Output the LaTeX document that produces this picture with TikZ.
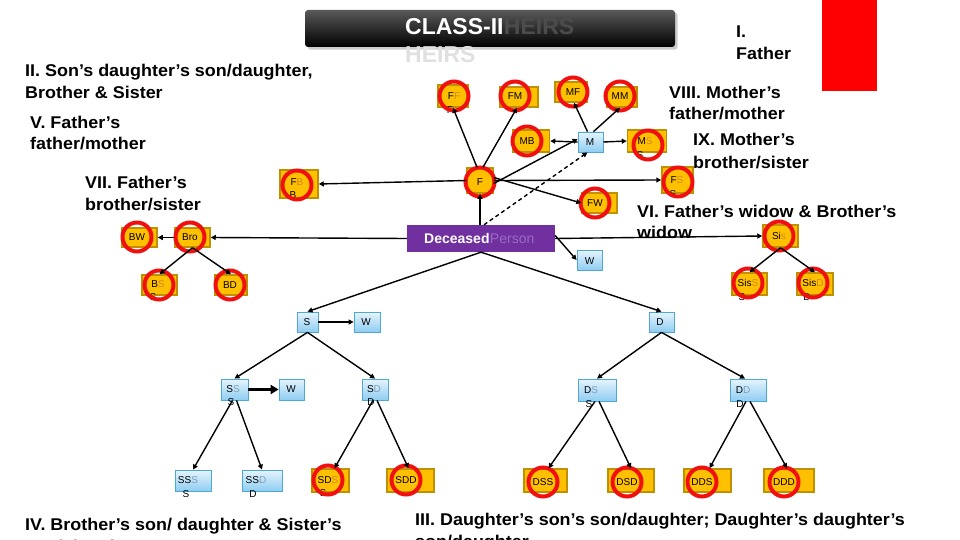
\documentclass[tikz,border=0pt]{standalone}
\usepackage{fontspec}
\setmainfont{Liberation Sans}
\newfontfamily\lblfont[FakeStretch=1.055]{Liberation Sans}
\usetikzlibrary{arrows.meta,shadows}
\definecolor{gold}{HTML}{FFC000}
\definecolor{goldb}{HTML}{BF9000}
\definecolor{ghostO}{HTML}{D08A20}
\definecolor{ghostB}{HTML}{7F9DB9}
\definecolor{ringred}{HTML}{F01010}
\definecolor{bluetop}{HTML}{E6F4FC}
\definecolor{bluebot}{HTML}{8FCDF2}
\definecolor{blueb}{HTML}{4FA8D2}
\definecolor{purp}{HTML}{7030A0}
\definecolor{ghostP}{HTML}{9B6BC4}
\newcommand\gO[1]{\textcolor{ghostO}{#1}}
\newcommand\gB[1]{\textcolor{ghostB}{#1}}
\tikzset{
 obox/.style={draw=goldb, fill=gold, line width=1.5pt, inner sep=0pt},
 ring/.style={circle, draw=ringred, line width=4pt, minimum size=29pt, inner sep=0pt, font=\fontsize{10}{12}\selectfont},
 bbox/.style={draw=blueb, line width=0.8pt, top color=bluetop, bottom color=bluebot, inner sep=0pt},
 btxt/.style={inner sep=0pt, font=\fontsize{10}{12}\selectfont},
 subl/.style={inner sep=0pt, font=\fontsize{10}{12}\selectfont},
 lbl/.style={anchor=base west, inner sep=0pt, font=\lblfont\fontsize{17}{22}\bfseries\selectfont},
 arr/.style={-{Triangle[length=5pt,width=5pt]}, line width=1.4pt},
}
\begin{document}
\begin{tikzpicture}[x=1pt,y=-1pt]
\useasboundingbox (0,0) rectangle (960,540);
\clip (0,0) rectangle (960,540);
% title
\node[rounded corners=3pt, top color=black!65, bottom color=black, minimum width=370, minimum height=37, inner sep=0, drop shadow={opacity=0.4}] (title) at (490,28.5) {};
\node[anchor=base west, inner sep=0, text=white, font=\fontsize{23}{23}\bfseries\selectfont] (t1) at (405,35) {CLASS-II};
\node[anchor=base west, inner sep=0, text=black!70, font=\fontsize{23}{23}\bfseries\selectfont] (t2) at (t1.base east) {HEIRS};
\node[anchor=base west, inner sep=0, text=black!12, font=\fontsize{23}{23}\bfseries\selectfont] (t3) at (405,63) {HEIRS};
\fill[red] (822,0) rectangle (877,91);
% labels
\node[lbl] (lI1) at (736,38) {I.};
\node[lbl] (lI2) at (736,60) {Father};
\node[lbl] (lII1) at (25,77) {II. Son’s daughter’s son/daughter,};
\node[lbl] (lII2) at (25,99) {Brother \& Sister};
\node[lbl] (lV1) at (30,129) {V. Father’s};
\node[lbl] (lV2) at (30,150) {father/mother};
\node[lbl] (lVII1) at (85,188) {VII. Father’s};
\node[lbl] (lVII2) at (85,210) {brother/sister};
\node[lbl] (lVIII1) at (669,99) {VIII. Mother’s};
\node[lbl] (lVIII2) at (669,120) {father/mother};
\node[lbl] (lIX1) at (693,146) {IX. Mother’s};
\node[lbl] (lIX2) at (693,168) {brother/sister};
\node[lbl] (lVI1) at (637,217) {VI. Father’s widow \& Brother’s};
\node[lbl] (lVI2) at (637,238) {widow};
\node[lbl] (lIV1) at (25,530) {IV. Brother’s son/ daughter \& Sister’s};
\node[lbl] (lIV2) at (25,552) {son/ daughter};
\node[lbl] (lIII1) at (415,525) {III. Daughter’s son’s son/daughter; Daughter’s daughter’s};
\node[lbl] (lIII2) at (415,547) {son/daughter};
% orange boxes
\node[obox, minimum width=30, minimum height=22] (FF) at (453,96) {};
\node[obox, minimum width=38, minimum height=20] (FM) at (519,97) {};
\node[obox, minimum width=32, minimum height=20] (MF) at (571,92) {};
\node[obox, minimum width=30, minimum height=20] (MM) at (622,97) {};
\node[obox, minimum width=37, minimum height=22] (MB) at (531,141) {};
\node[obox, minimum width=39, minimum height=22] (MS) at (647,141) {};
\node[obox, minimum width=38, minimum height=28] (FB) at (299,184) {};
\node[obox, minimum width=26, minimum height=25] (F) at (480,180.5) {};
\node[obox, minimum width=31, minimum height=26] (FS) at (677.5,180) {};
\node[obox, minimum width=35, minimum height=20] (FW) at (599.5,203) {};
\node[obox, minimum width=35, minimum height=19] (BW) at (139.5,237.5) {};
\node[obox, minimum width=35, minimum height=19] (Bro) at (192.5,237.5) {};
\node[obox, minimum width=35, minimum height=22] (Sis) at (780.5,236) {};
\node[obox, minimum width=35, minimum height=20] (BS) at (159.5,285) {};
\node[obox, minimum width=32, minimum height=20] (BD) at (231,285) {};
\node[obox, minimum width=35, minimum height=22] (SisS) at (749.5,284) {};
\node[obox, minimum width=36, minimum height=22] (SisD) at (815,284) {};
\node[obox, minimum width=37, minimum height=23] (SDS) at (330.5,480.5) {};
\node[obox, minimum width=47, minimum height=23] (SDD) at (410.5,480.5) {};
\node[obox, minimum width=43, minimum height=23] (DSS) at (545.5,480.5) {};
\node[obox, minimum width=46, minimum height=23] (DSD) at (631,480.5) {};
\node[obox, minimum width=47, minimum height=23] (DDS) at (707.5,480.5) {};
\node[obox, minimum width=50, minimum height=23] (DDD) at (789,480.5) {};
% letters wrapped below boxes
\node[subl] (FFs) at (450,110) {F};
\node[subl] (MSs) at (640,155) {S};
\node[subl] (FBs) at (293,195) {B};
\node[subl] (FSs) at (673,194) {S};
\node[subl] (BSs) at (153,297) {S};
\node[subl] (SisSs) at (742,297) {S};
\node[subl] (SisDs) at (807,297) {D};
\node[subl] (SDSs) at (323,493) {S};
% rings with texts
\node[ring] (FFr) at (454,96) {F\gO{F}};
\node[ring] (FMr) at (515,96) {FM};
\node[ring] (MFr) at (573,92) {MF};
\node[ring] (MMr) at (620,96) {MM};
\node[ring] (MBr) at (527,141) {MB};
\node[ring] (MSr) at (648,145) {};
\node[btxt] (MSt) at (645,141) {M\gO{S}};
\node[ring] (FBr) at (297,185) {};
\node[btxt] (FBt) at (297,182) {F\gO{B}};
\node[ring] (Fr) at (480,182) {F};
\node[ring] (FSr) at (678,182) {};
\node[btxt] (FSt) at (677,180) {F\gO{S}};
\node[ring] (FWr) at (595,203) {FW};
\node[ring] (BWr) at (137,237) {BW};
\node[ring] (Bror) at (190,237) {Bro};
\node[ring] (Sisr) at (779,236) {Si\gO{s}};
\node[ring] (BSr) at (159,285) {};
\node[btxt] (BSt) at (158,284) {B\gO{S}};
\node[ring] (BDr) at (230,285) {BD};
\node[ring] (SisSr) at (748,283) {Sis\gO{S}};
\node[ring] (SisDr) at (813,283) {Sis\gO{D}};
\node[ring] (SDSr) at (328,480) {SD\gO{S}};
\node[ring] (SDDr) at (406,480) {SDD};
\node[ring] (DSSr) at (543,482) {DSS};
\node[ring] (DSDr) at (627,482) {DSD};
\node[ring] (DDSr) at (702,482) {DDS};
\node[ring] (DDDr) at (784,482) {DDD};
% blue boxes
\node[bbox, minimum width=25, minimum height=20] (M) at (590.5,142) {};
\node[btxt] (Mt) at (590,142) {M};
\node[bbox, minimum width=25, minimum height=20] (Wd) at (589.5,260) {};
\node[btxt] (Wdt) at (589.5,261) {W};
\node[bbox, minimum width=21, minimum height=20] (S) at (307.5,322) {};
\node[btxt] (St) at (307,322) {S};
\node[bbox, minimum width=26, minimum height=20] (W1) at (367,322) {};
\node[btxt] (W1t) at (366,322) {W};
\node[bbox, minimum width=25, minimum height=20] (D) at (661.5,322) {};
\node[btxt] (Dt) at (660,322) {D};
\node[bbox, minimum width=27, minimum height=21] (SS) at (234.5,389.5) {};
\node[btxt] (SSt) at (233,389) {S\gB{S}};
\node[subl] (SSs) at (231,402) {S};
\node[bbox, minimum width=25, minimum height=21] (W2) at (291.5,389.5) {};
\node[btxt] (W2t) at (291,389) {W};
\node[bbox, minimum width=26, minimum height=21] (SD) at (375,389.5) {};
\node[btxt] (SDt) at (374,389) {S\gB{D}};
\node[subl] (SDs) at (371,402) {D};
\node[bbox, minimum width=38, minimum height=22] (DS) at (597,390) {};
\node[btxt] (DSt) at (591,390) {D\gB{S}};
\node[subl] (DSs) at (589,404) {S};
\node[bbox, minimum width=36, minimum height=22] (DD) at (748,390) {};
\node[btxt] (DDt) at (743,390) {D\gB{D}};
\node[subl] (DDs) at (740,404) {D};
\node[bbox, minimum width=36, minimum height=21] (SSS) at (193,480.5) {};
\node[btxt] (SSSt) at (188,480) {SS\gB{S}};
\node[subl] (SSSs) at (186,494) {S};
\node[bbox, minimum width=40, minimum height=21] (SSD) at (262,480.5) {};
\node[btxt] (SSDt) at (256,480) {SS\gB{D}};
\node[subl] (SSDs) at (253,494) {D};
% deceased
\node[fill=purp, minimum width=148, minimum height=27, inner sep=0] (Dec) at (481,238.5) {};
\node[anchor=base west, inner sep=0, text=white, font=\fontsize{14}{14}\bfseries\selectfont] (Dect) at (424,243) {Deceased};
\node[anchor=base west, inner sep=0, text=ghostP, font=\fontsize{14}{14}\selectfont] (Decg) at (Dect.base east) {Person};
% edges
\draw[arr] ([xshift=-3]F.north) -- (FF.south);
\draw[arr] ([xshift=3]F.north) -- ([xshift=-2]FM.south);
\draw[arr] ([xshift=-3]M.north) -- ([xshift=3]MF.south);
\draw[arr] ([xshift=3]M.north) -- ([xshift=-2]MM.south);
\draw[arr] (M.west) -- (MB.east);
\draw[arr] (M.east) -- (MS.west);
\draw[arr] ([yshift=-3]F.east) -- ([yshift=3]M.west);
\draw[arr] (F.east) -- (FS.west);
\draw[arr] ([yshift=3]F.east) -- (FW.west);
\draw[arr] (F.west) -- (FB.east);
\draw[arr] (Dec.north -| F) -- (F.south);
\draw[arr, dashed, dash pattern=on 4pt off 3pt] ([xshift=3]Dec.north) -- ([xshift=-3]M.south);
\draw[arr] (Dec.west) -- (Bro.east);
\draw[arr] (Dec.east) -- (Sis.west);
\draw[arr] ([yshift=3]Dec.east) -- (Wd.west);
\draw[arr] (Dec.south) -- (S.north);
\draw[arr] (Dec.south) -- (D.north);
\draw[arr] (Bro.west) -- (BW.east);
\draw[arr] (Bro.south) -- (BS.north);
\draw[arr] (Bro.south) -- (BD.north);
\draw[arr] (Sis.south) -- (SisS.north);
\draw[arr] (Sis.south) -- (SisD.north);
\draw[arr] (S.east) -- (W1.west);
\draw[arr] (S.south) -- (SS.north);
\draw[arr] (S.south) -- (SD.north);
\draw[-{Triangle[length=8pt,width=9pt]}, line width=3pt] (SS.east) -- (W2.west);
\draw[arr] ([xshift=-2]SS.south) -- (SSS.north);
\draw[arr] ([xshift=2]SS.south) -- (SSD.north);
\draw[arr] ([xshift=-2]SD.south) -- ([xshift=4]SDS.north);
\draw[arr] ([xshift=2]SD.south) -- ([xshift=-2]SDD.north);
\draw[arr] (D.south) -- (DS.north);
\draw[arr] (D.south) -- ([xshift=-3]DD.north);
\draw[arr] ([xshift=-2]DS.south) -- ([xshift=3]DSS.north);
\draw[arr] ([xshift=2]DS.south) -- (DSD.north);
\draw[arr] ([xshift=-2]DD.south) -- ([xshift=2]DDS.north);
\draw[arr] ([xshift=2]DD.south) -- ([xshift=-2]DDD.north);
\end{tikzpicture}
\end{document}
